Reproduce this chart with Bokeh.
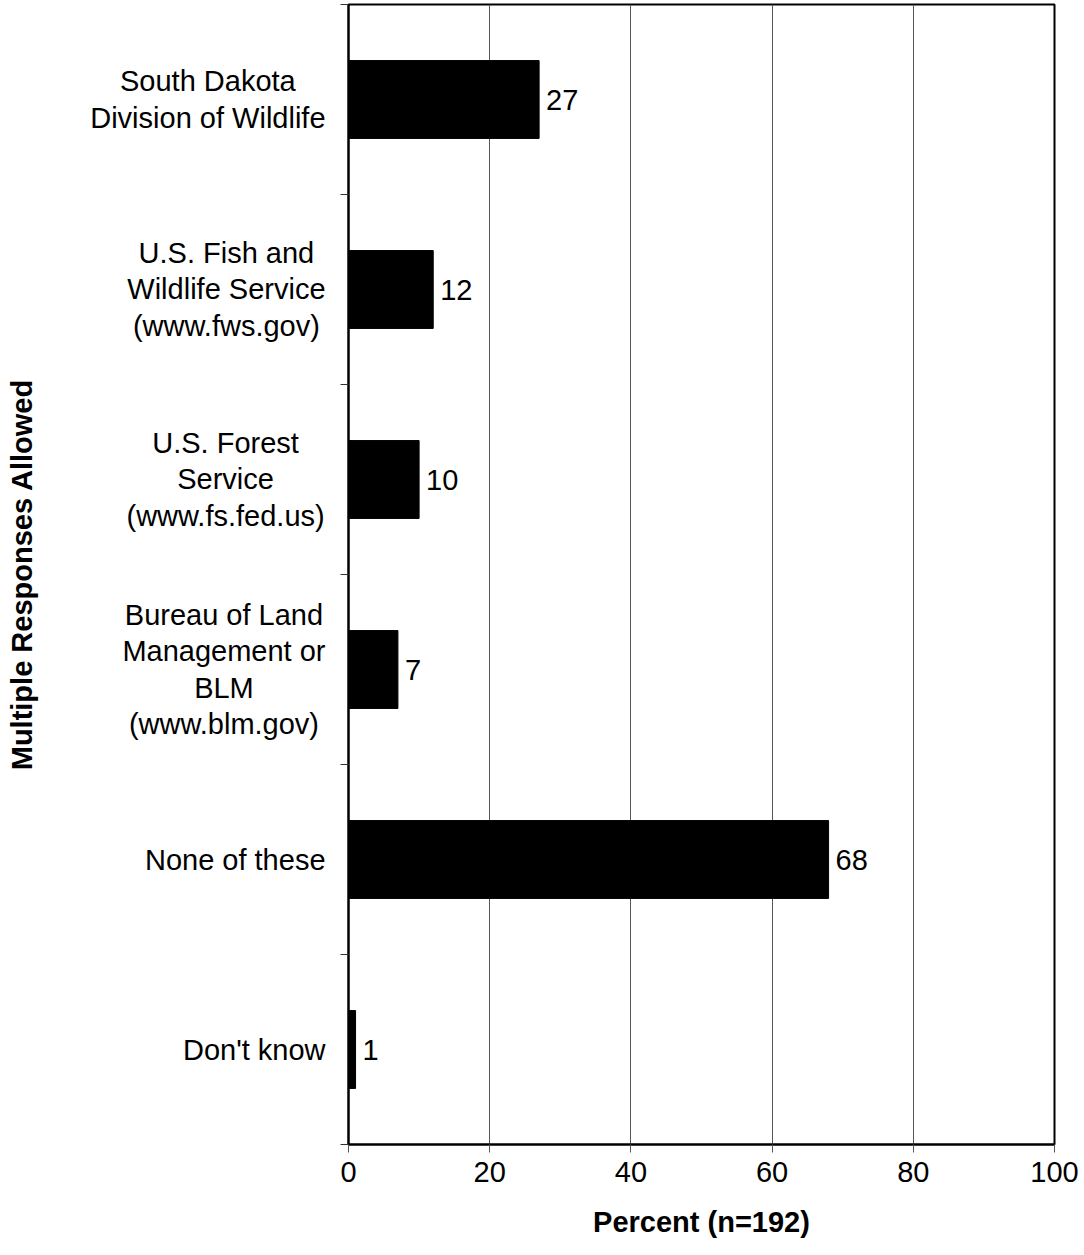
import math
from bokeh.plotting import figure
from bokeh.layouts import row
from bokeh.models import FixedTicker, ColumnDataSource, Range1d
from bokeh.core.properties import value
from bokeh.embed import file_html
from bokeh.resources import INLINE

categories = [
    "South Dakota\nDivision of Wildlife",
    "U.S. Fish and\nWildlife Service\n(www.fws.gov)",
    "U.S. Forest\nService\n(www.fs.fed.us)",
    "Bureau of Land\nManagement or\nBLM\n(www.blm.gov)",
    "None of these",
    "Don't know",
]
percents = [27, 12, 10, 7, 68, 1]
x_ticks = [0, 20, 40, 60, 80, 100]
y_title = "Multiple Responses Allowed"
x_title = "Percent (n=192)"

FONT = "Liberation Sans"
FS = 29  # px
n = len(categories)
centers = [n - 0.5 - i for i in range(n)]

# Arial / Liberation Sans advance widths (per 1000 em)
W = {' ': 278, "'": 191, '(': 333, ')': 333, '.': 278, '=': 584}
W.update({d: 556 for d in "0123456789"})
W.update(dict(zip("ABCDEFGHIJKLMNOPQRSTUVWXYZ",
                  [667, 667, 722, 722, 667, 611, 778, 722, 278, 500, 667, 556, 833,
                   722, 778, 667, 778, 722, 667, 611, 722, 667, 944, 667, 667, 611])))
W.update(dict(zip("abcdefghijklmnopqrstuvwxyz",
                  [556, 556, 500, 556, 556, 278, 556, 556, 222, 222, 500, 222, 833,
                   556, 556, 556, 556, 333, 500, 278, 556, 500, 722, 500, 500, 500])))


def text_width(s):
    return sum(W.get(ch, 556) for ch in s) * FS / 1000.0


FRAME_H = 1140
TOP = 4
BOTTOM = 95
y_rng = Range1d(0, n)

# ---- left panel: category labels and y title ----
LEFT_W = 338
LABEL_RIGHT = 325   # right edge of label blocks (px in left panel)
TITLE_X = 21

left = figure(frame_width=LEFT_W, frame_height=FRAME_H, output_backend="svg", toolbar_location=None,
              x_range=Range1d(0, LEFT_W), y_range=y_rng,
              x_axis_location=None, y_axis_location=None,
              min_border_left=0, min_border_right=0, min_border_top=TOP, min_border_bottom=BOTTOM)
left.outline_line_color = None
left.grid.grid_line_color = None

lab_x = [LABEL_RIGHT - max(text_width(l) for l in lab.split("\n")) / 2.0 for lab in categories]
left.text(x=lab_x, y=centers, text=categories, text_align="center", text_baseline="middle",
          text_font=value(FONT), text_font_size=f"{FS}px", text_color="black", text_line_height=1.14)
left.text(x=[TITLE_X], y=[n / 2.0], text=[y_title], angle=math.pi / 2, text_align="center",
          text_baseline="middle", text_font=value(FONT), text_font_size=f"{FS}px",
          text_font_style="bold", text_color="black")

# ---- main chart ----
src = ColumnDataSource(dict(y=centers, v=percents, lbl=[str(v) for v in percents]))

p = figure(frame_width=706, frame_height=FRAME_H, output_backend="svg", toolbar_location=None,
           x_range=Range1d(0, 100), y_range=y_rng,
           min_border_left=10, min_border_right=26, min_border_top=TOP, min_border_bottom=BOTTOM)

p.hbar(y="y", right="v", left=0, height=0.41, source=src, fill_color="black", line_color="black")
p.text(x="v", y="y", text="lbl", source=src, x_offset=7, text_baseline="middle", text_align="left",
       text_font=value(FONT), text_font_size=f"{FS}px", text_color="black")

p.outline_line_color = "black"
p.outline_line_width = 2
p.background_fill_color = "white"
p.border_fill_color = "white"

xa = p.xaxis[0]
xa.ticker = FixedTicker(ticks=x_ticks, minor_ticks=[])
xa.major_tick_out = 8
xa.major_tick_in = 0
xa.major_tick_line_color = "#555555"
xa.axis_line_color = "black"
xa.axis_line_width = 2
xa.major_label_text_font = FONT
xa.major_label_text_font_size = f"{FS}px"
xa.major_label_text_color = "black"
xa.major_label_standoff = 9
xa.axis_label = x_title
xa.axis_label_text_font = FONT
xa.axis_label_text_font_size = f"{FS}px"
xa.axis_label_text_font_style = "bold"
xa.axis_label_text_color = "black"
xa.axis_label_standoff = 21

ya = p.yaxis[0]
ya.ticker = FixedTicker(ticks=list(range(n + 1)), minor_ticks=[])
ya.major_label_overrides = {i: "" for i in range(n + 1)}
ya.major_label_text_font_size = "0px"
ya.major_tick_out = 8
ya.major_tick_in = 0
ya.major_tick_line_color = "#333333"
ya.axis_line_color = "black"
ya.axis_line_width = 2
ya.major_label_standoff = 0

p.xgrid.ticker = FixedTicker(ticks=x_ticks)
p.xgrid.grid_line_color = "#555555"
p.xgrid.grid_line_width = 1
p.ygrid.grid_line_color = None

layout = row(left, p)
open("out.html", "w").write(file_html(layout, INLINE))
